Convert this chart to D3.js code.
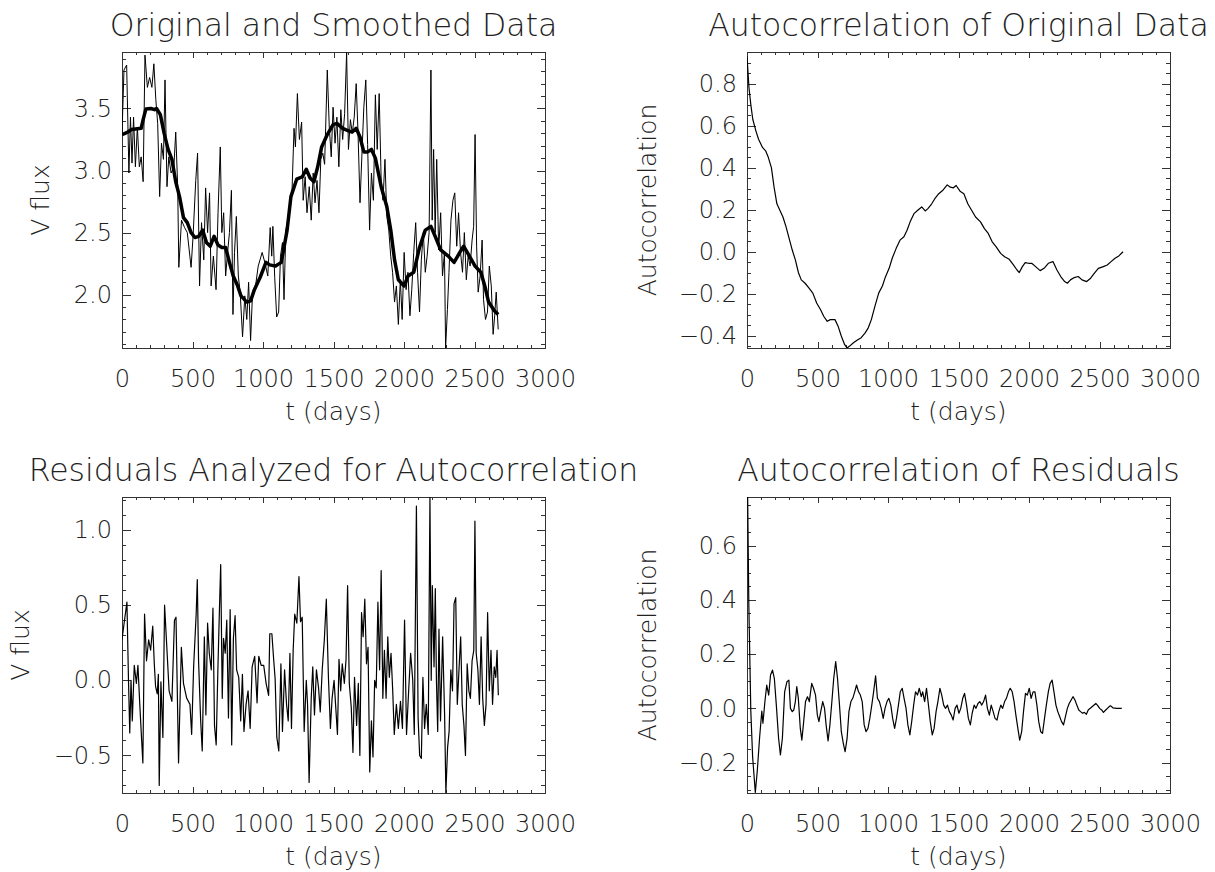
<!DOCTYPE html>
<html>
<head>
<meta charset="utf-8">
<script src="https://cdn.jsdelivr.net/npm/d3@7"></script>
<style>
  body { margin: 0; background: #fff; }
  text { font-family: "DejaVu Sans", sans-serif; fill: #222; font-weight: 300; }
</style>
</head>
<body>
<svg id="chart" width="1215" height="872"></svg>
<script>
// time axis, shared by all four panels
var tRange = [0, 3000];
var tTicks = [0, 500, 1000, 1500, 2000, 2500, 3000];

// original V flux (thin line) and its smoothed version (thick line)
var rawT = [0, 14, 33, 49, 60, 71, 82, 95, 109, 123,
  136, 150, 163, 180, 196, 212, 226, 240, 253, 267,
  280, 294, 305, 319, 332, 348, 368, 381, 395, 403,
  422, 444, 463, 490, 504, 523, 536, 550, 564, 580,
  593, 607, 621, 632, 648, 667, 681, 697, 708, 721,
  735, 749, 762, 776, 787, 798, 811, 825, 838, 855,
  871, 885, 898, 912, 926, 947, 966, 994, 1013, 1034,
  1051, 1062, 1070, 1083, 1097, 1111, 1124, 1138, 1149, 1162,
  1176, 1190, 1206, 1220, 1230, 1244, 1258, 1274, 1285, 1299,
  1312, 1328, 1342, 1356, 1369, 1383, 1397, 1410, 1424, 1437,
  1456, 1470, 1484, 1497, 1511, 1524, 1538, 1552, 1565, 1579,
  1593, 1606, 1620, 1633, 1647, 1661, 1674, 1688, 1701, 1715,
  1729, 1742, 1756, 1769, 1783, 1797, 1810, 1824, 1838, 1851,
  1865, 1878, 1892, 1906, 1919, 1933, 1946, 1960, 1974, 1987,
  2001, 2015, 2028, 2042, 2055, 2069, 2083, 2096, 2110, 2123,
  2137, 2151, 2164, 2178, 2191, 2200, 2210, 2221, 2232, 2246,
  2260, 2273, 2287, 2295, 2308, 2319, 2333, 2347, 2360, 2374,
  2387, 2401, 2415, 2428, 2442, 2455, 2469, 2483, 2494, 2504,
  2515, 2526, 2540, 2554, 2564, 2578, 2592, 2605, 2619, 2632,
  2643, 2654, 2668];
var rawV = [3.29, 3.81, 3.85, 2.98, 3.43, 3.06, 3.43, 3.03, 3.35, 3.03,
  3.11, 2.91, 3.93, 3.67, 3.75, 3.67, 3.86, 3.57, 3.38, 2.79,
  3.22, 3.09, 3.73, 2.87, 3.11, 2.98, 3.03, 3.31, 2.87, 2.22,
  2.60, 2.54, 2.50, 2.22, 2.47, 2.92, 3.14, 2.07, 2.58, 2.28,
  2.86, 2.50, 2.82, 2.07, 2.31, 2.04, 2.66, 3.19, 2.50, 2.66,
  2.15, 2.34, 2.50, 2.84, 1.84, 2.34, 2.63, 2.15, 2.02, 1.66,
  1.99, 1.80, 2.10, 1.63, 2.02, 2.07, 2.23, 2.34, 2.26, 2.15,
  2.54, 2.31, 2.55, 2.14, 1.82, 1.86, 2.31, 2.42, 1.96, 2.52,
  2.60, 2.68, 2.84, 3.34, 3.19, 3.62, 3.25, 3.39, 2.76, 2.95,
  2.66, 2.87, 2.60, 2.98, 2.74, 2.92, 2.66, 3.09, 3.14, 3.05,
  3.81, 3.35, 3.11, 3.51, 3.22, 3.43, 3.03, 3.49, 3.25, 3.46,
  3.95, 3.17, 3.41, 3.30, 3.43, 3.70, 3.30, 2.74, 3.11, 3.51,
  3.73, 3.21, 2.52, 2.98, 2.76, 3.61, 3.17, 3.62, 2.92, 2.76,
  3.09, 2.63, 2.52, 2.31, 2.18, 1.94, 2.07, 1.76, 2.12, 1.80,
  2.34, 2.04, 2.18, 1.83, 2.04, 2.34, 2.58, 2.18, 1.86, 2.28,
  2.50, 2.18, 2.31, 2.50, 3.81, 2.60, 3.17, 2.50, 3.09, 2.36,
  2.66, 2.15, 2.34, 1.57, 1.88, 2.18, 2.60, 2.76, 2.82, 2.39,
  2.66, 2.34, 2.18, 2.50, 2.12, 2.31, 2.23, 2.44, 2.55, 3.29,
  2.39, 2.02, 2.15, 2.44, 1.96, 1.80, 1.86, 2.23, 2.07, 1.68,
  1.83, 2.02, 1.72];
var smoothT = [0, 41, 68, 136, 150, 169, 204, 231, 245, 272,
  299, 327, 354, 381, 408, 436, 463, 490, 517, 544,
  572, 599, 626, 653, 681, 708, 735, 762, 789, 817,
  844, 885, 912, 939, 980, 1021, 1048, 1089, 1130, 1171,
  1198, 1239, 1279, 1307, 1334, 1361, 1388, 1416, 1456, 1497,
  1524, 1565, 1606, 1633, 1661, 1688, 1715, 1742, 1769, 1797,
  1838, 1878, 1906, 1933, 1960, 2001, 2028, 2069, 2110, 2151,
  2191, 2232, 2260, 2314, 2355, 2396, 2423, 2464, 2504, 2545,
  2573, 2600, 2641, 2668];
var smoothV = [3.29, 3.31, 3.33, 3.34, 3.41, 3.495, 3.50, 3.49, 3.50, 3.45,
  3.30, 3.17, 3.09, 2.91, 2.79, 2.62, 2.58, 2.50, 2.46, 2.47,
  2.52, 2.42, 2.39, 2.47, 2.40, 2.38, 2.38, 2.26, 2.15, 2.08,
  1.99, 1.94, 1.95, 2.04, 2.14, 2.26, 2.24, 2.23, 2.26, 2.52,
  2.79, 2.93, 2.95, 3.01, 2.94, 2.91, 3.03, 3.19, 3.29, 3.37,
  3.38, 3.34, 3.32, 3.31, 3.34, 3.27, 3.15, 3.15, 3.17, 3.10,
  2.87, 2.71, 2.52, 2.28, 2.12, 2.07, 2.15, 2.18, 2.38, 2.52,
  2.55, 2.44, 2.36, 2.31, 2.26, 2.34, 2.39, 2.31, 2.23, 2.18,
  2.07, 1.94, 1.87, 1.84];
var fluxRange = [1.57, 3.955];
var fluxTicks = [2.0, 2.5, 3.0, 3.5];

// autocorrelation of the original data
var acfT = [0, 14, 27, 41, 63, 82, 110, 132, 151, 173,
  192, 212, 233, 255, 277, 302, 321, 343, 365, 385,
  412, 440, 467, 494, 522, 544, 569, 591, 624, 646,
  668, 692, 709, 728, 755, 783, 810, 838, 860, 882,
  907, 934, 961, 981, 1008, 1030, 1058, 1085, 1113, 1135,
  1157, 1184, 1211, 1239, 1264, 1283, 1310, 1332, 1360, 1387,
  1420, 1442, 1464, 1483, 1511, 1538, 1566, 1593, 1621, 1656,
  1684, 1711, 1739, 1766, 1799, 1827, 1860, 1887, 1915, 1931,
  1953, 1973, 1997, 2019, 2047, 2079, 2107, 2137, 2170, 2198,
  2225, 2253, 2272, 2294, 2321, 2349, 2376, 2409, 2437, 2464,
  2492, 2527, 2555, 2582, 2610, 2637, 2667];
var acfV = [0.93, 0.78, 0.70, 0.63, 0.575, 0.535, 0.496, 0.48, 0.449, 0.40,
  0.307, 0.228, 0.197, 0.165, 0.118, 0.055, 0.008, -0.039, -0.10, -0.134,
  -0.15, -0.173, -0.197, -0.244, -0.276, -0.307, -0.331, -0.323, -0.323, -0.354,
  -0.40, -0.441, -0.458, -0.449, -0.433, -0.42, -0.409, -0.386, -0.362, -0.323,
  -0.26, -0.197, -0.162, -0.121, -0.079, -0.031, 0.016, 0.055, 0.071, 0.102,
  0.142, 0.181, 0.197, 0.213, 0.194, 0.205, 0.228, 0.252, 0.276, 0.291,
  0.318, 0.307, 0.304, 0.315, 0.288, 0.276, 0.228, 0.197, 0.165, 0.142,
  0.11, 0.087, 0.047, 0.024, -0.008, -0.024, -0.036, -0.06, -0.087, -0.099,
  -0.071, -0.052, -0.055, -0.055, -0.071, -0.09, -0.079, -0.055, -0.047, -0.087,
  -0.118, -0.142, -0.15, -0.134, -0.123, -0.118, -0.134, -0.142, -0.126, -0.102,
  -0.079, -0.071, -0.063, -0.047, -0.031, -0.02, 0.0];
var acfRange = [-0.458, 0.95];
var acfTicks = [-0.4, -0.2, 0.0, 0.2, 0.4, 0.6, 0.8];

// residuals (original minus smoothed)
var residT = [0, 15, 35, 46, 55, 64, 73, 87, 102, 113,
  125, 136, 148, 160, 174, 189, 203, 218, 229, 238,
  250, 258, 264, 276, 290, 302, 319, 334, 354, 372,
  383, 401, 421, 436, 459, 482, 494, 508, 526, 534,
  543, 558, 569, 584, 595, 607, 619, 633, 645, 656,
  668, 680, 691, 700, 711, 720, 732, 743, 755, 767,
  778, 790, 802, 813, 828, 842, 854, 865, 880, 894,
  909, 923, 941, 958, 970, 987, 1005, 1022, 1040, 1048,
  1063, 1074, 1086, 1098, 1112, 1127, 1138, 1153, 1167, 1179,
  1191, 1202, 1214, 1225, 1240, 1255, 1266, 1278, 1292, 1307,
  1316, 1327, 1342, 1353, 1365, 1379, 1394, 1406, 1420, 1435,
  1449, 1464, 1478, 1490, 1504, 1516, 1528, 1539, 1551, 1562,
  1577, 1589, 1600, 1612, 1626, 1638, 1649, 1664, 1676, 1687,
  1699, 1710, 1722, 1734, 1745, 1757, 1769, 1780, 1792, 1803,
  1815, 1827, 1838, 1850, 1861, 1873, 1885, 1896, 1908, 1920,
  1931, 1946, 1960, 1975, 1989, 2004, 2018, 2033, 2047, 2062,
  2073, 2088, 2100, 2111, 2123, 2134, 2146, 2158, 2172, 2184,
  2193, 2201, 2213, 2222, 2230, 2239, 2248, 2259, 2274, 2288,
  2297, 2309, 2320, 2332, 2344, 2355, 2367, 2378, 2390, 2402,
  2413, 2425, 2436, 2448, 2460, 2471, 2483, 2495, 2503, 2512,
  2524, 2535, 2547, 2558, 2570, 2582, 2593, 2605, 2617, 2628,
  2640, 2651, 2660, 2669];
var residV = [0.27, 0.38, 0.52, 0.0, -0.35, 0.0, -0.27, 0.10, -0.02, 0.10,
  -0.14, -0.34, -0.55, 0.44, 0.13, 0.27, 0.20, 0.36, 0.11, -0.04,
  -0.09, 0.04, -0.70, -0.01, -0.38, 0.50, 0.20, -0.07, -0.14, 0.40,
  0.42, -0.55, 0.22, -0.02, -0.12, -0.16, -0.36, 0.09, 0.44, 0.67,
  0.13, -0.27, -0.47, 0.29, -0.23, 0.38, 0.18, 0.07, 0.48, -0.30,
  -0.43, 0.07, 0.47, 0.77, -0.12, 0.28, 0.18, 0.40, -0.25, 0.47,
  -0.43, 0.28, 0.43, 0.07, 0.02, -0.27, 0.04, -0.34, -0.16, -0.07,
  -0.32, 0.09, 0.16, -0.15, 0.16, 0.10, 0.10, -0.02, -0.10, 0.31,
  0.31, 0.16, 0.01, -0.38, -0.47, 0.11, -0.34, 0.07, -0.16, -0.27,
  0.18, -0.32, 0.20, 0.44, 0.38, 0.69, 0.39, 0.42, -0.34, 0.0,
  -0.16, -0.68, -0.12, 0.09, -0.23, 0.07, -0.05, -0.21, 0.07, 0.27,
  0.54, 0.02, -0.32, -0.12, 0.0, -0.18, -0.36, 0.14, -0.07, 0.11,
  -0.02, 0.14, 0.63, -0.02, -0.18, -0.48, 0.02, -0.30, -0.02, -0.50,
  0.45, 0.29, 0.54, 0.11, 0.22, -0.61, -0.27, -0.51, 0.0, -0.05,
  0.52, 0.07, 0.73, -0.12, 0.20, -0.12, 0.29, 0.02, 0.18, -0.07,
  -0.36, -0.16, -0.32, -0.14, -0.32, 0.40, -0.36, -0.07, 0.18, 0.0,
  -0.36, 1.16, -0.25, -0.50, -0.52, 0.02, -0.32, -0.16, -0.36, 1.22,
  0.0, 0.63, 0.09, 0.61, 0.0, -0.34, 0.34, -0.27, 0.29, -0.23,
  -0.75, -0.45, -0.34, 0.07, -0.07, 0.51, 0.55, -0.16, 0.07, 0.29,
  -0.16, -0.30, -0.50, 0.11, -0.07, -0.12, 0.13, 0.20, 1.06, 0.18,
  0.07, -0.16, 0.29, -0.12, -0.30, -0.16, 0.45, -0.07, 0.20, -0.16,
  0.09, 0.02, 0.20, -0.10];
var residRange = [-0.75, 1.22];
var residTicks = [-0.5, 0.0, 0.5, 1.0];

// autocorrelation of the residuals
var acfResT = [0, 13, 27, 40, 59, 73, 89, 105, 113, 127,
  140, 154, 167, 181, 194, 208, 224, 237, 251, 267,
  283, 297, 308, 321, 332, 343, 353, 364, 378, 389,
  402, 415, 429, 442, 459, 472, 486, 499, 510, 523,
  537, 550, 561, 575, 588, 602, 615, 629, 642, 656,
  669, 683, 696, 710, 723, 737, 750, 764, 777, 791,
  804, 817, 831, 844, 858, 871, 885, 898, 912, 925,
  939, 952, 966, 979, 993, 1006, 1020, 1033, 1047, 1060,
  1074, 1087, 1101, 1114, 1128, 1141, 1155, 1168, 1182, 1195,
  1209, 1222, 1236, 1246, 1260, 1273, 1287, 1300, 1314, 1327,
  1341, 1354, 1368, 1381, 1395, 1408, 1422, 1435, 1449, 1462,
  1476, 1489, 1503, 1516, 1530, 1543, 1557, 1570, 1584, 1597,
  1611, 1624, 1638, 1651, 1665, 1678, 1692, 1705, 1719, 1732,
  1746, 1759, 1773, 1786, 1800, 1813, 1827, 1840, 1854, 1867,
  1881, 1894, 1907, 1921, 1934, 1948, 1961, 1975, 1988, 2002,
  2015, 2029, 2042, 2056, 2069, 2083, 2096, 2110, 2123, 2137,
  2150, 2164, 2177, 2191, 2204, 2218, 2231, 2245, 2258, 2272,
  2285, 2299, 2312, 2326, 2339, 2353, 2366, 2380, 2393, 2407,
  2420, 2447, 2474, 2488, 2501, 2515, 2528, 2544, 2560, 2577,
  2595, 2622, 2658];
var acfResV = [1.0, 0.38, -0.01, -0.18, -0.31, -0.23, -0.11, -0.01, -0.055, 0.025,
  0.086, 0.049, 0.123, 0.141, 0.11, 0.012, -0.11, -0.172, -0.11, 0.061,
  0.098, 0.104, 0.0, -0.012, -0.006, 0.025, 0.08, 0.037, -0.074, -0.117,
  -0.049, 0.025, 0.043, 0.025, 0.092, 0.074, 0.049, -0.025, -0.049, -0.012,
  0.025, 0.0, -0.061, -0.12, -0.061, 0.025, 0.11, 0.172, 0.11, 0.012,
  -0.086, -0.129, -0.16, -0.11, -0.012, 0.025, 0.037, 0.061, 0.086, 0.061,
  0.049, 0.025, -0.061, -0.086, -0.074, -0.037, 0.012, 0.061, 0.12, 0.037,
  0.025, 0.0, -0.037, 0.0, 0.025, 0.037, 0.012, -0.037, -0.074, -0.037,
  0.012, 0.061, 0.074, 0.037, 0.0, -0.061, -0.098, -0.049, 0.012, 0.061,
  0.049, 0.074, 0.043, 0.061, 0.025, 0.074, 0.012, -0.049, -0.098, -0.074,
  -0.012, 0.025, 0.074, 0.049, 0.012, 0.0, 0.012, -0.012, -0.025, -0.043,
  0.0, 0.012, -0.018, 0.0, 0.037, 0.055, 0.012, -0.037, -0.061, -0.018,
  0.012, 0.0, 0.018, 0.025, 0.012, 0.025, 0.049, 0.0, -0.025, 0.012,
  -0.012, -0.037, -0.043, -0.012, 0.012, 0.0, 0.025, 0.037, 0.061, 0.074,
  0.061, 0.025, -0.025, -0.074, -0.117, -0.086, -0.012, 0.055, 0.049, 0.074,
  0.037, 0.061, 0.061, 0.012, -0.049, -0.086, -0.092, -0.037, 0.012, 0.061,
  0.092, 0.104, 0.061, 0.012, -0.012, -0.031, -0.049, -0.061, -0.031, 0.0,
  0.018, 0.031, 0.043, 0.031, 0.012, -0.006, -0.012, -0.018, -0.015, -0.022,
  -0.006, 0.006, 0.018, 0.01, 0.0, -0.006, -0.015, -0.006, 0.002, 0.01,
  0.002, 0.0, 0.0];
var acfResRange = [-0.312, 0.779];
var acfResTicks = [-0.2, 0.0, 0.2, 0.4, 0.6];

var svg = d3.select("#chart");
var W = 423, H = 296;

// idl style box: ticks on all four sides pointing in, minor ticks in between
function panel(o) {
  var g = svg.append("g").attr("transform", "translate(" + o.left + "," + o.top + ")");
  var x = d3.scaleLinear().domain(tRange).range([0, W]);
  var y = d3.scaleLinear().domain(o.yRange).range([H, 0]);

  var xMinor = d3.range(0, 3001, 100).filter(function(d) { return d % 500 !== 0; });
  var k0 = Math.ceil(o.yRange[0] / o.yMinor - 1e-6), k1 = Math.floor(o.yRange[1] / o.yMinor + 1e-6);
  var yMinor = d3.range(k0, k1 + 1).map(function(k) { return +(k * o.yMinor).toFixed(4); })
    .filter(function(v) { return o.yTicks.every(function(t) { return Math.abs(t - v) > 1e-6; }); });

  function clean(sel) {
    sel.attr("font-family", null).attr("font-size", null).style("color", "#333");
    sel.select(".domain").remove();
    sel.selectAll("line").attr("shape-rendering", "crispEdges");
  }

  g.append("g").attr("transform", "translate(0," + H + ")")
    .call(d3.axisBottom(x).tickValues(tTicks).tickSize(-6).tickPadding(22).tickFormat(d3.format("d")))
    .call(clean);
  g.append("g").attr("transform", "translate(0," + H + ")")
    .call(d3.axisBottom(x).tickValues(xMinor).tickSize(-3).tickFormat("")).call(clean);
  g.append("g").call(d3.axisTop(x).tickValues(tTicks).tickSize(-6).tickFormat("")).call(clean);
  g.append("g").call(d3.axisTop(x).tickValues(xMinor).tickSize(-3).tickFormat("")).call(clean);

  g.append("g")
    .call(d3.axisLeft(y).tickValues(o.yTicks).tickSize(-8.5).tickPadding(10).tickFormat(d3.format(".1f")))
    .call(clean);
  g.append("g").call(d3.axisLeft(y).tickValues(yMinor).tickSize(-4).tickFormat("")).call(clean);
  g.append("g").attr("transform", "translate(" + W + ",0)")
    .call(d3.axisRight(y).tickValues(o.yTicks).tickSize(-8.5).tickFormat("")).call(clean);
  g.append("g").attr("transform", "translate(" + W + ",0)")
    .call(d3.axisRight(y).tickValues(yMinor).tickSize(-4).tickFormat("")).call(clean);

  g.selectAll(".tick text").style("font-size", "24px");

  g.append("rect").attr("width", W).attr("height", H)
    .attr("fill", "none").attr("stroke", "#333").attr("shape-rendering", "crispEdges");

  g.append("clipPath").attr("id", "clip" + o.id)
    .append("rect").attr("width", W).attr("height", H);

  var line = d3.line().x(function(d) { return x(d[0]); }).y(function(d) { return y(d[1]); });
  o.series.forEach(function(s) {
    g.append("path")
      .datum(d3.zip(s.t, s.v))
      .attr("clip-path", "url(#clip" + o.id + ")")
      .attr("fill", "none")
      .attr("stroke", "#000")
      .attr("stroke-width", s.w)
      .attr("stroke-linejoin", "round")
      .attr("d", line);
  });

  svg.append("text")
    .attr("x", o.left + W / 2).attr("y", o.top - 16)
    .attr("text-anchor", "middle").style("font-size", "31.5px")
    .text(o.title);
  svg.append("text")
    .attr("x", o.left + W / 2).attr("y", o.top + H + 72)
    .attr("text-anchor", "middle").style("font-size", "25px")
    .text("t (days)");
  svg.append("text")
    .attr("transform", "translate(" + o.yTitleX + "," + (o.top + H / 2) + ") rotate(-90)")
    .attr("text-anchor", "middle").style("font-size", "25px")
    .text(o.yTitle);
}

panel({ id: 1, left: 122, top: 52, title: "Original and Smoothed Data", yTitle: "V flux", yTitleX: 49,
  yRange: fluxRange, yTicks: fluxTicks, yMinor: 0.1,
  series: [{ t: rawT, v: rawV, w: 1 }, { t: smoothT, v: smoothV, w: 3.5 }] });
panel({ id: 2, left: 747, top: 52, title: "Autocorrelation of Original Data", yTitle: "Autocorrelation", yTitleX: 656,
  yRange: acfRange, yTicks: acfTicks, yMinor: 0.05,
  series: [{ t: acfT, v: acfV, w: 1.2 }] });
panel({ id: 3, left: 122, top: 497, title: "Residuals Analyzed for Autocorrelation", yTitle: "V flux", yTitleX: 29,
  yRange: residRange, yTicks: residTicks, yMinor: 0.1,
  series: [{ t: residT, v: residV, w: 1.2 }] });
panel({ id: 4, left: 747, top: 497, title: "Autocorrelation of Residuals", yTitle: "Autocorrelation", yTitleX: 656,
  yRange: acfResRange, yTicks: acfResTicks, yMinor: 0.05,
  series: [{ t: acfResT, v: acfResV, w: 1.2 }] });
</script>
</body>
</html>
